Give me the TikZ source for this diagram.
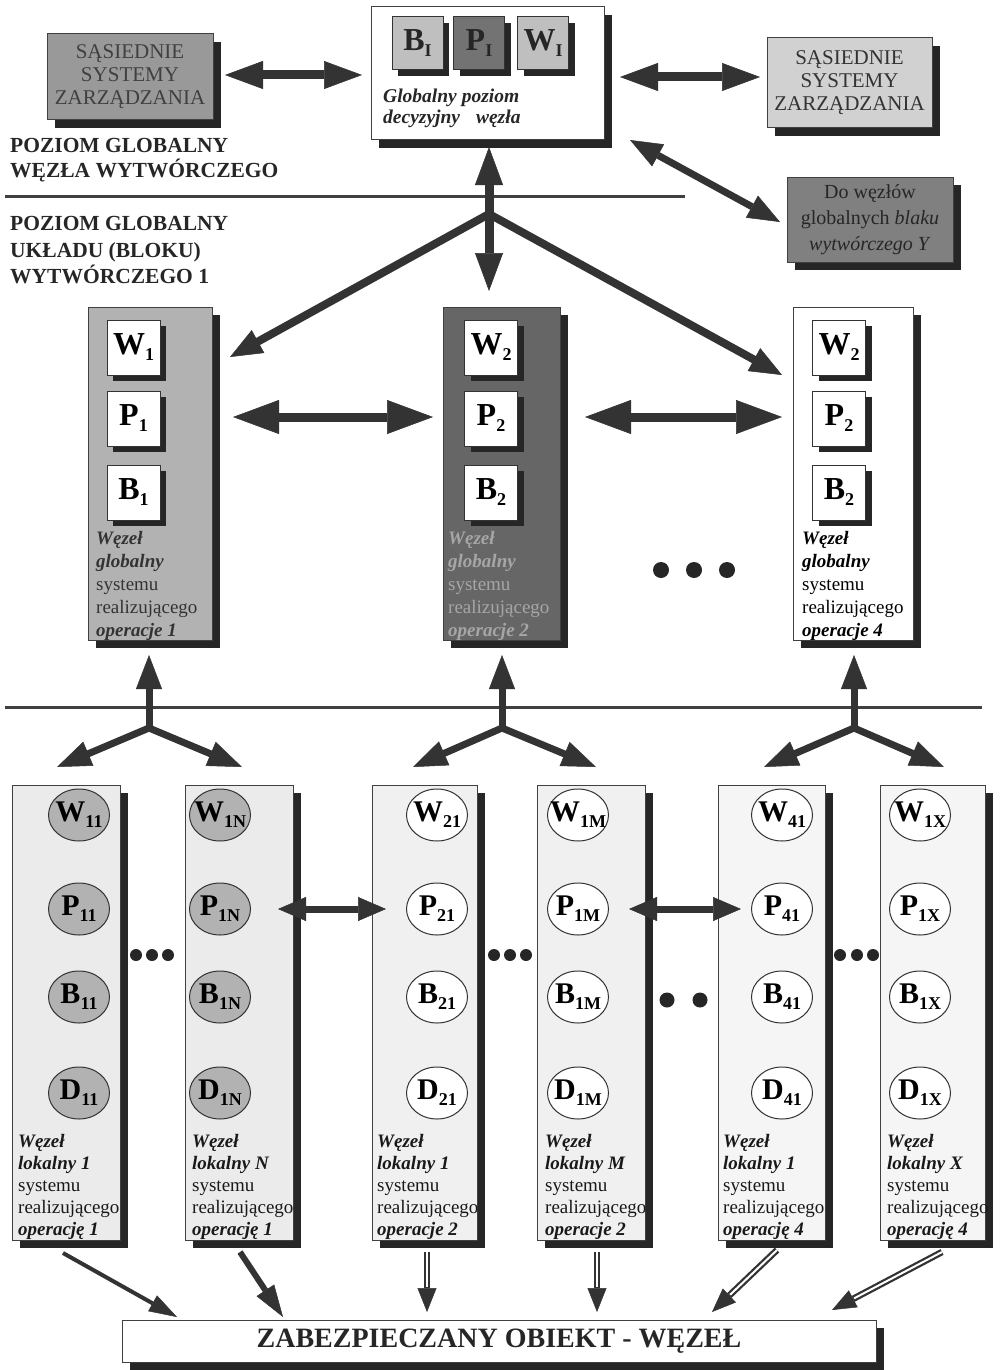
\documentclass[tikz,border=0pt]{standalone}
\usepackage{fontspec}
\setmainfont{Liberation Serif}
\usetikzlibrary{arrows.meta,shadows,shapes.geometric}
\newcommand{\fsz}[2]{\fontsize{#1}{#2}\selectfont}
\newcommand{\sublab}[3][30]{{\fsz{#1}{#1}\bfseries #2\raisebox{-6pt}{\fsz{18}{18}\bfseries #3}}}
\newcommand{\circlab}[2]{\makebox[0pt]{\sublab{#1}{#2}}}
\begin{document}
\begin{tikzpicture}[x=1pt,y=-1pt,
 shad/.style={drop shadow={shadow xshift=8pt,shadow yshift=-8pt,opacity=1,fill=black!85}},
 ishad/.style={drop shadow={shadow xshift=6pt,shadow yshift=-6pt,opacity=1,fill=black!85}},
 box/.style={draw=black!75,line width=1pt,inner sep=0pt,outer sep=0pt,shad},
 ibox/.style={draw=black!80,line width=1pt,fill=white,minimum width=53pt,minimum height=55pt,inner sep=0pt,outer sep=0pt,ishad},
 circ/.style={ellipse,draw=black!80,line width=1pt,minimum width=61pt,minimum height=52pt,inner sep=0pt},
 dot/.style={circle,fill=black!85,inner sep=0pt,minimum size=#1},
 dot/.default=12pt,
 lbl/.style={inner sep=0pt,anchor=base west,text=black!85,font=\fsz{21.5}{24}\bfseries},
 bigarr/.style={draw=black!80,line width=9pt,{Triangle[length=38pt,width=28pt,line width=0.5pt]}-{Triangle[length=38pt,width=28pt,line width=0.5pt]}},
 garr/.style={draw=black!80,line width=9pt,{Triangle[length=46pt,width=34pt,line width=0.5pt]}-{Triangle[length=46pt,width=34pt,line width=0.5pt]}},
 brarr/.style={draw=black!80,line width=8pt,line cap=round,-{Triangle[length=32pt,width=26pt,line width=0.5pt]}},
 diagarr/.style={draw=black!80,line width=7pt,{Triangle[length=32pt,width=25pt,line width=0.5pt]}-{Triangle[length=32pt,width=25pt,line width=0.5pt]}},
 treearr/.style={draw=black!80,line width=7pt,line cap=round,-{Triangle[length=34pt,width=26pt,line width=0.5pt]}},
 locarr/.style={draw=black!80,line width=7pt,{Triangle[length=28pt,width=24pt,line width=0.5pt]}-{Triangle[length=28pt,width=24pt,line width=0.5pt]}},
 botarrA/.style={draw=black!80,line width=4pt,-{Triangle[length=28pt,width=18pt,line width=0.5pt]}},
 botarrB/.style={draw=black!80,line width=6pt,-{Triangle[length=32pt,width=21pt,line width=0.5pt]}},
 dblarr/.style={draw=black!80,line width=6.5pt,-{Triangle[length=24pt,width=19pt,line width=0.5pt]},
   postaction={draw=white,line width=2pt,-,shorten >=25pt}},
 rule/.style={draw=black!75,line width=3pt}
]
\useasboundingbox (0,0) rectangle (999,1370);
\fill[white] (0,0) rectangle (999,1370);

% ---------- top level ----------
\node[box,fill=black!40,minimum width=166pt,minimum height=86pt,align=center,text=black!75,font=\fsz{21}{23}] (sasL) at (130,77) {SĄSIEDNIE\\SYSTEMY\\ZARZĄDZANIA};
\node[box,fill=white,minimum width=233pt,minimum height=133pt] (gtop) at (487.5,73.5) {};
\node[ibox,fill=black!25,minimum width=51pt,minimum height=53pt,text=black!85] (BI) at (417.5,43.5) {\sublab[32]{B}{I}};
\node[ibox,fill=black!55,minimum width=51pt,minimum height=53pt,text=black!85] (PI) at (479,43.5) {\sublab[32]{P}{I}};
\node[ibox,fill=black!25,minimum width=51pt,minimum height=53pt,text=black!85] (WI) at (543,43.5) {\sublab[32]{W}{I}};
\node[anchor=north west,align=left,inner sep=0pt,font=\fsz{19.5}{21}\bfseries\itshape,text=black!85] (gtxt) at (383,89) {Globalny poziom\\decyzyjny\hspace{16pt}węzła};
\node[box,fill=black!18,minimum width=165pt,minimum height=90pt,align=center,text=black!80,font=\fsz{21}{23}] (sasR) at (849.5,83) {SĄSIEDNIE\\SYSTEMY\\ZARZĄDZANIA};
\node[box,fill=black!50,minimum width=166pt,minimum height=85pt,align=center,text=black!85,font=\fsz{20}{26}] (doY) at (870,219.5) {Do węzłów\\globalnych \textit{blaku}\\\textit{wytwórczego Y}};

\node[lbl] (lab1) at (10,153) {POZIOM GLOBALNY};
\node[lbl] (lab2) at (10,177) {WĘZŁA WYTWÓRCZEGO};
\node[lbl] (lab3) at (10,230) {POZIOM GLOBALNY};
\node[lbl] (lab4) at (10,257) {UKŁADU (BLOKU)};
\node[lbl] (lab5) at (10,283) {WYTWÓRCZEGO 1};

\draw[rule] (5,196) -- (685,196);
\draw[rule] (5,707) -- (982,707);

\draw[bigarr] ([xshift=12pt,yshift=2pt]sasL.east) -- ([xshift=-9pt,yshift=-1.5pt]gtop.west);
\draw[bigarr] ([xshift=16pt,yshift=-3.5pt]gtop.east) -- ([xshift=-7pt,yshift=6pt]sasR.west);
\draw[diagarr] ([xshift=26pt]gtop.south east) -- ([xshift=-7pt,yshift=-2.5pt]doY.west);

% ---------- global nodes ----------
\foreach \i/\gx/\gw/\gf/\bx/\sbs/\tx/\txc/\op in {
  1/150/124/black!30/133.5/1/96/black!80/{operacje 1},
  2/501.5/117/black!60/491/2/448/black!35/{operacje 2},
  3/853/120/white/839/2/802/black/{operacje 4}}{
  \node[box,fill=\gf,minimum width=\gw pt,minimum height=333pt] (G\i) at (\gx,473.5) {};
  \node[ibox] (GW\i) at (\bx,347.5) {\sublab[32]{W}{\sbs}};
  \node[ibox] (GP\i) at (\bx,418.5) {\sublab[32]{P}{\sbs}};
  \node[ibox] (GB\i) at (\bx,492.5) {\sublab[32]{B}{\sbs}};
  \node[anchor=north west,align=left,inner sep=0pt,font=\fsz{19}{23},text=\txc] (GT\i) at (\tx,531)
    {\textbf{\textit{Węzeł}}\\\textbf{\textit{globalny}}\\systemu\\realizującego\\\textbf{\textit{\op}}};
}

\coordinate (J) at (489,214);
\draw[bigarr] ([xshift=1.5pt,yshift=-7pt]gtop.south) -- ([xshift=-12.5pt,yshift=16pt]G2.north);
\draw[brarr] (J) -- ([xshift=18pt,yshift=-50pt]G1.north east);
\draw[brarr] (J) -- ([xshift=-11pt,yshift=-68pt]G3.north west);

\draw[garr] ([xshift=21pt,yshift=56.5pt]G1.east) -- ([xshift=-10pt,yshift=56.5pt]G2.west);
\draw[garr] ([xshift=25pt,yshift=56.5pt]G2.east) -- ([xshift=-11pt,yshift=56.5pt]G3.west);

\node[dot=16pt] (gd1) at (661,570) {};
\node[dot=16pt] (gd2) at (694,570) {};
\node[dot=16pt] (gd3) at (727,570) {};

% ---------- local nodes ----------
\foreach \i/\bx/\bw/\cx/\sbs/\cf/\lf/\tx/\lk/\op in {
  1/66/108/79/11/black!30/black!8/18/{lokalny 1}/{operację 1},
  2/239/108/220/1N/black!30/black!8/192/{lokalny N}/{operację 1},
  3/424.5/105/437/21/white/black!6/377/{lokalny 1}/{operacje 2},
  4/591/108/578/1M/white/black!6/545/{lokalny M}/{operacje 2},
  5/771.5/107/782/41/white/black!4/723/{lokalny 1}/{operację 4},
  6/932.5/105/920/1X/white/black!4/887/{lokalny X}/{operację 4}}{
  \node[box,fill=\lf,minimum width=\bw pt,minimum height=455pt] (L\i) at (\bx,1012.5) {};
  \node[circ,fill=\cf] (W-\i) at (\cx,815) {\circlab{W}{\sbs}};
  \node[circ,fill=\cf] (P-\i) at (\cx,909) {\circlab{P}{\sbs}};
  \node[circ,fill=\cf] (B-\i) at (\cx,997) {\circlab{B}{\sbs}};
  \node[circ,fill=\cf] (D-\i) at (\cx,1093) {\circlab{D}{\sbs}};
  \node[anchor=north west,align=left,inner sep=0pt,font=\fsz{19}{22},text=black!90] (LT\i) at (\tx,1134)
    {\textbf{\textit{Węzeł}}\\\textbf{\textit{\lk}}\\systemu\\realizującego\\\textbf{\textit{\op}}};
}

\draw[locarr,shorten <=27pt,shorten >=20pt] (P-2) -- (P-3);
\draw[locarr,shorten <=20pt,shorten >=10pt] (P-4) -- (P-5);

\node[dot] (ld1) at (136,955) {};
\node[dot] (ld2) at (152,955) {};
\node[dot] (ld3) at (168,955) {};
\node[dot] (ld4) at (494,955) {};
\node[dot] (ld5) at (510,955) {};
\node[dot] (ld6) at (526,955) {};
\node[dot=15pt] (ld7) at (667,1000) {};
\node[dot=15pt] (ld8) at (700,1000) {};
\node[dot] (ld9) at (840,955) {};
\node[dot] (ld10) at (857,955) {};
\node[dot] (ld11) at (873,955) {};

% ---------- trees ----------
\coordinate (T1) at (149,728);
\coordinate (T2) at (502,728);
\coordinate (T3) at (854,728);
\draw[treearr] (T1) -- ([xshift=-1pt,yshift=-15pt]G1.south);
\draw[treearr] (T1) -- ([xshift=-9pt,yshift=18pt]L1.north);
\draw[treearr] (T1) -- ([xshift=3pt,yshift=18pt]L2.north);
\draw[treearr] (T2) -- ([xshift=0.5pt,yshift=-15pt]G2.south);
\draw[treearr] (T2) -- ([xshift=-11.5pt,yshift=18pt]L3.north);
\draw[treearr] (T2) -- ([xshift=5pt,yshift=18pt]L4.north);
\draw[treearr] (T3) -- ([xshift=1pt,yshift=-15pt]G3.south);
\draw[treearr] (T3) -- ([xshift=-7.5pt,yshift=18pt]L5.north);
\draw[treearr] (T3) -- ([xshift=11.5pt,yshift=18pt]L6.north);

% ---------- bottom ----------
\node[box,fill=white,minimum width=754pt,minimum height=42pt,font=\fsz{28}{28}\bfseries,text=black!85] (obj) at (499,1341) {ZABEZPIECZANY OBIEKT - WĘZEŁ};

\draw[botarrA] ([xshift=-3pt,yshift=-13pt]L1.south) -- ([xshift=55pt,yshift=3pt]obj.north west);
\draw[botarrB] ([xshift=1pt,yshift=-12pt]L2.south) -- ([xshift=161pt,yshift=3pt]obj.north west);
\draw[dblarr] ([xshift=2.5pt,yshift=-12pt]L3.south) -- ([xshift=305pt,yshift=8pt]obj.north west);
\draw[dblarr] ([xshift=6pt,yshift=-12pt]L4.south) -- ([xshift=475pt,yshift=8pt]obj.north west);
\draw[dblarr] ([xshift=5.5pt,yshift=-10pt]L5.south) -- ([xshift=590pt,yshift=8pt]obj.north west);
\draw[dblarr] ([xshift=9.5pt,yshift=-12pt]L6.south) -- ([xshift=710pt,yshift=10pt]obj.north west);
\end{tikzpicture}
\end{document}
